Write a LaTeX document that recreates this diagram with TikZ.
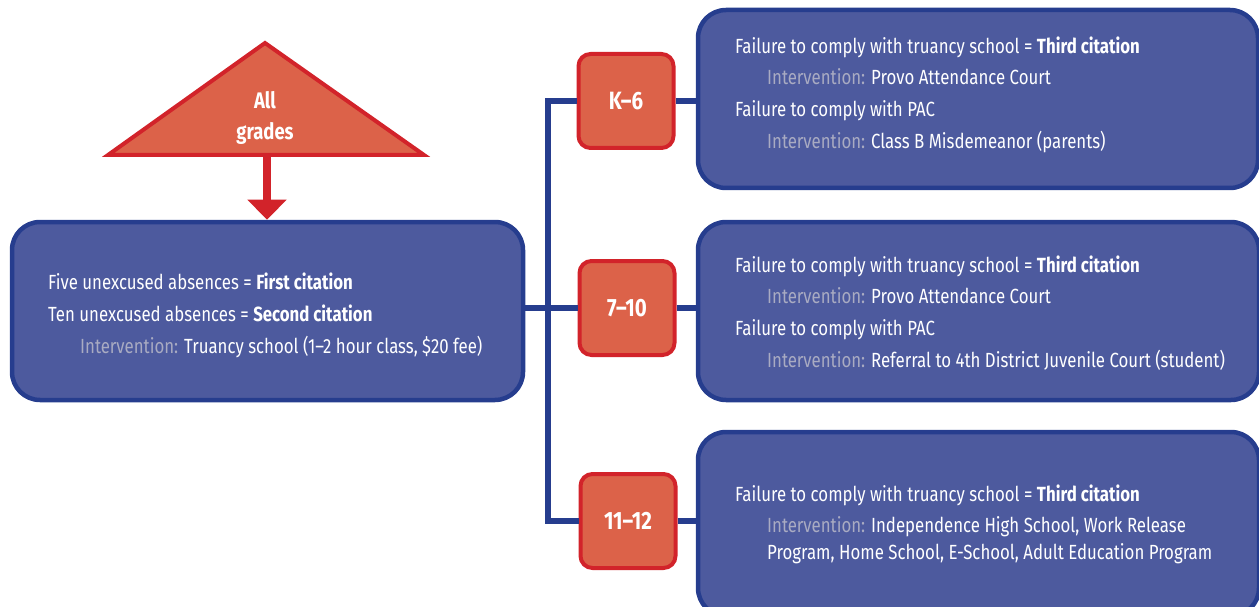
\documentclass[tikz,border=0pt]{standalone}
\usepackage{fontspec}
\setmainfont[FakeStretch=0.82]{Fira Sans}
\usetikzlibrary{arrows.meta}
\definecolor{bfill}{HTML}{4D5A9E}
\definecolor{bline}{HTML}{263D8E}
\definecolor{rfill}{HTML}{DC6249}
\definecolor{rline}{HTML}{D2232A}
\definecolor{itv}{HTML}{A9ABC2}
\begin{document}
\begin{tikzpicture}[x=1pt,y=-1pt,
  bluebox/.style={draw=bline, fill=bfill, line width=4.5pt, rounded corners=28pt, inner sep=0pt},
  redbox/.style={draw=rline, fill=rfill, line width=4pt, rounded corners=12pt, inner sep=0pt,
    text=white, font=\fontsize{25}{28}\selectfont\bfseries, minimum width=95pt, minimum height=94pt},
  conn/.style={draw=bline, line width=6pt},
  txt/.style={anchor=base west, text=white, inner sep=0pt, font=\fontsize{20.5}{24}\selectfont},
  itvl/.style={text=itv}]
\useasboundingbox (0,0) rectangle (1259,607);
\clip (0,0) rectangle (1259,607);
% triangle
\draw[draw=rline, fill=rfill, line width=4pt, line join=miter] (265,43) -- (424,155) -- (108,155) -- cycle;
\coordinate (tb) at (267,155);
\node[text=white, font=\fontsize{22.5}{31}\selectfont\bfseries, align=center, inner sep=0pt] (all) at (265,118) {All\\grades};
% left box
\node[bluebox, minimum width=511pt, minimum height=178pt] (b0) at (267.5,311) {};
\draw[draw=rline, line width=8pt, -{Triangle[width=38pt,length=20pt]}] (tb) -- (b0.north -| tb);
\node[txt] (l1) at (48,289) {Five unexcused absences = \textbf{First citation}};
\node[txt] (l2) at (48,321) {Ten unexcused absences = \textbf{Second citation}};
\node[txt] (l3) at (80,353) {\textcolor{itv}{Intervention:} Truancy school (1–2 hour class, \$20 fee)};
% right boxes
\node[bluebox, minimum width=560pt, minimum height=178pt] (t1) at (978,99) {};
\node[bluebox, minimum width=561pt, minimum height=178pt] (t2) at (978.5,311) {};
\node[bluebox, minimum width=561pt, minimum height=184pt] (t3) at (978.5,524) {};
% red boxes
\node[redbox] (r1) at (626,101) {K–6};
\node[redbox] (r2) at (627,308) {7–10};
\node[redbox] (r3) at (628,521) {11–12};
% connectors
\coordinate (j) at (548,308);
\draw[conn] (b0.east |- j) -- (r2.west);
\draw[conn] (r1.west) -- (r1.west -| j) -- (r3.west -| j) -- (r3.west);
\draw[conn] (r1.east) -- (r1.east -| t1.west);
\draw[conn] (r2.east) -- (r2.east -| t2.west);
\draw[conn] (r3.east) -- (r3.east -| t3.west);
% texts top
\node[txt] (a1) at (735,54) {Failure to comply with truancy school = \textbf{Third citation}};
\node[txt] (a2) at (767,85) {\textcolor{itv}{Intervention:} Provo Attendance Court};
\node[txt] (a3) at (735,117) {Failure to comply with PAC};
\node[txt] (a4) at (767,149) {\textcolor{itv}{Intervention:} Class B Misdemeanor (parents)};
% texts middle
\node[txt] (m1) at (735,272) {Failure to comply with truancy school = \textbf{Third citation}};
\node[txt] (m2) at (767,303) {\textcolor{itv}{Intervention:} Provo Attendance Court};
\node[txt] (m3) at (735,335) {Failure to comply with PAC};
\node[txt] (m4) at (767,367) {\textcolor{itv}{Intervention:} Referral to 4th District Juvenile Court (student)};
% texts bottom
\node[txt] (c1) at (735,501) {Failure to comply with truancy school = \textbf{Third citation}};
\node[txt] (c2) at (767,532) {\textcolor{itv}{Intervention:} Independence High School, Work Release};
\node[txt] (c3) at (767,559) {Program, Home School, E-School, Adult Education Program};
\end{tikzpicture}
\end{document}
